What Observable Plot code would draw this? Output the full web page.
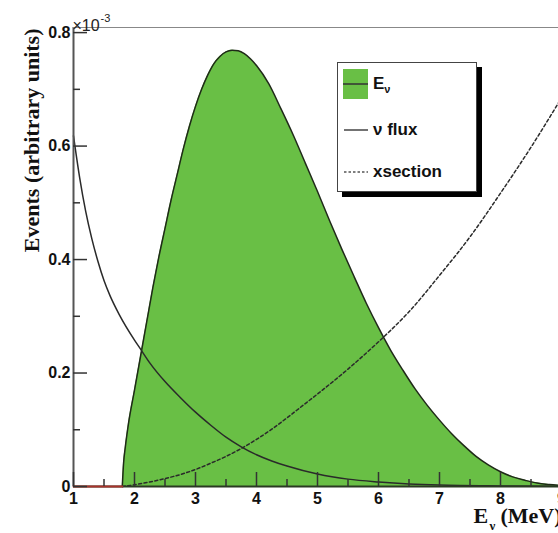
<!DOCTYPE html>
<html><head><meta charset="utf-8">
<script src="https://cdn.jsdelivr.net/npm/d3@7"></script>
<script src="https://cdn.jsdelivr.net/npm/@observablehq/plot@0.6"></script>
<style>
html,body{margin:0;padding:0;background:#fff;overflow:hidden;}
#wrap{position:relative;width:558px;height:533px;overflow:hidden;}
#legend{position:absolute;left:337px;top:62px;width:138px;height:128px;border:1.5px solid #444;background:#fff;box-shadow:5px 5px 0 #000;font-family:"Liberation Sans",Arial,sans-serif;font-weight:bold;font-size:17px;color:#111;}
.row{position:absolute;left:5px;height:30px;display:flex;align-items:center;}
.row svg{display:block;margin-right:5px;}
.row sub{font-size:11px;vertical-align:-4px;}
</style>
</head><body>
<div id="wrap"></div>
<script>
// Spectrum (green filled): energy (MeV) and events (x1e-3)
const specE = [1.80,1.82,1.85,1.90,2.00,2.10,2.20,2.30,2.40,2.50,2.60,2.70,2.80,2.90,3.00,3.10,3.20,3.30,3.40,3.50,3.60,3.70,3.80,3.90,4.00,4.20,4.40,4.60,4.80,5.00,5.20,5.40,5.60,5.80,6.00,6.20,6.40,6.60,6.80,7.00,7.20,7.40,7.60,7.80,8.00,8.20,8.40,8.60,8.80,9.00];
const specV = [0,0.040,0.070,0.110,0.170,0.230,0.290,0.350,0.405,0.455,0.505,0.550,0.595,0.635,0.670,0.700,0.725,0.745,0.758,0.766,0.769,0.768,0.763,0.754,0.742,0.710,0.666,0.620,0.570,0.520,0.468,0.418,0.370,0.323,0.280,0.240,0.205,0.172,0.143,0.117,0.093,0.072,0.053,0.038,0.026,0.017,0.011,0.006,0.0035,0.002];
// Zero segment below threshold
const zeroE = [1.0,1.8];
const zeroV = [0,0];
// Neutrino flux (solid)
const fluxE = [1.0,1.1,1.2,1.3,1.4,1.5,1.6,1.75,2.0,2.1,2.25,2.5,2.75,3.0,3.25,3.5,3.75,4.0,4.25,4.5,5.0,5.5,6.0,6.5,7.0,8.0,9.0];
const fluxV = [0.618,0.545,0.485,0.437,0.397,0.363,0.336,0.303,0.258,0.242,0.218,0.185,0.157,0.131,0.108,0.087,0.070,0.056,0.045,0.036,0.022,0.013,0.008,0.0045,0.0025,0.001,0.0003];
// Cross-section (dotted)
const xsecE = [1.8,2.0,2.25,2.5,2.75,3.0,3.25,3.5,3.75,4.0,4.25,4.5,4.75,5.0,5.5,6.0,6.5,7.0,7.5,8.0,8.5,9.0];
const xsecV = [0,0.003,0.008,0.014,0.021,0.030,0.041,0.053,0.067,0.083,0.101,0.121,0.142,0.163,0.207,0.255,0.308,0.372,0.440,0.517,0.598,0.685];
// Axes
const xDomain = [1,9];
const yDomain = [0,0.809];
const xMajor = [1,2,3,4,5,6,7,8,9];
const xMinor = [1.5,2.5,3.5,4.5,5.5,6.5,7.5,8.5];
const yMajor = [0,0.2,0.4,0.6,0.8];
const yMinor = [0.1,0.3,0.5,0.7];

const toRows = (E,V) => E.map((e,i)=>({e, v:V[i]}));
const spec = toRows(specE,specV), flux = toRows(fluxE,fluxV), xsec = toRows(xsecE,xsecV), zero = toRows(zeroE,zeroV);

const serif = '"Liberation Serif","Times New Roman",serif';
const sans = '"Liberation Sans",Arial,sans-serif';
const tickStyle = {stroke:"#333", strokeWidth:1.5};

const chart = Plot.plot({
  width:558, height:533,
  marginLeft:73, marginRight:0, marginTop:27, marginBottom:47,
  x:{domain:xDomain, range:[73,561]},
  y:{domain:yDomain, range:[486,27]},
  style:{fontFamily:sans, fontSize:"16px", fontWeight:"bold", color:"#111", background:"#fff"},
  marks:[
    Plot.areaY(spec,{x:"e", y:"v", fill:"#69bf45", curve:"monotone-x"}),
    Plot.line(spec,{x:"e", y:"v", stroke:"#1f2a18", strokeWidth:1.5, curve:"monotone-x"}),
    Plot.line(flux,{x:"e", y:"v", stroke:"#2a2a2a", strokeWidth:1.5, curve:"monotone-x"}),
    Plot.line(xsec,{x:"e", y:"v", stroke:"#2a2a2a", strokeWidth:1.5, strokeDasharray:"3,2.5", curve:"monotone-x"}),
    Plot.ruleX([xDomain[0]],{stroke:"#555", strokeWidth:2}),
    Plot.ruleY([yDomain[1]],{stroke:"#888", strokeWidth:1}),
    Plot.ruleY([0],{stroke:"#2a3a22", strokeWidth:2}),
    Plot.line(zero,{x:"e", y:"v", stroke:"#a8322c", strokeWidth:2}),
    Plot.tickY(yMajor,{...tickStyle, insetRight:471}),
    Plot.tickY(yMinor,{...tickStyle, insetRight:478}),
    Plot.tickX(xMajor,{...tickStyle, insetTop:445}),
    Plot.tickX(xMinor,{...tickStyle, insetTop:452}),
    Plot.axisY({ticks:yMajor, tickSize:0, tickPadding:3, label:null, fontSize:16, fontWeight:"bold",
                tickFormat:d => d === 0 ? "0" : d.toFixed(1)}),
    Plot.axisX({ticks:xMajor, tickSize:0, tickPadding:6, label:null, fontSize:16, fontWeight:"bold",
                tickFormat:d => String(d)}),
    Plot.text(["Events (arbitrary units)"],{frameAnchor:"top-left", rotate:-90, textAnchor:"end", dx:-50, dy:1,
                fontFamily:serif, fontSize:22, fontWeight:"bold", fill:"#111"}),
    Plot.text(["E"],{frameAnchor:"bottom-left", textAnchor:"start", dx:400, dy:36, fontFamily:serif, fontSize:22, fontWeight:"bold", fill:"#111"}),
    Plot.text(["ν"],{frameAnchor:"bottom-left", textAnchor:"start", dx:416, dy:43, fontFamily:serif, fontSize:13, fontWeight:"bold", fill:"#111"}),
    Plot.text(["(MeV)"],{frameAnchor:"bottom-left", textAnchor:"start", dx:427, dy:36, fontFamily:serif, fontSize:22, fontWeight:"bold", fill:"#111"}),
    Plot.text(["×10"],{frameAnchor:"top-left", textAnchor:"start", dx:-1, dy:-8, fontSize:16, fontWeight:"normal", fill:"#222"}),
    Plot.text(["-3"],{frameAnchor:"top-left", textAnchor:"start", dx:27, dy:-13, fontSize:11, fontWeight:"normal", fill:"#222"})
  ]
});
const wrap = document.getElementById("wrap");
wrap.appendChild(chart);

const legend = document.createElement("div");
legend.id = "legend";
legend.innerHTML = `
  <div class="row" style="top:6px"><svg width="25" height="30"><rect x="0" y="0" width="25" height="30" fill="#69bf45"/><line x1="0" x2="25" y1="15" y2="15" stroke="#333" stroke-width="1.5"/></svg><span>E<sub>ν</sub></span></div>
  <div class="row" style="top:52px"><svg width="25" height="30"><line x1="1" x2="25" y1="15" y2="15" stroke="#444" stroke-width="1.5"/></svg><span>ν flux</span></div>
  <div class="row" style="top:94px"><svg width="25" height="30"><line x1="1" x2="25" y1="15" y2="15" stroke="#555" stroke-width="1.5" stroke-dasharray="2.5,2"/></svg><span>xsection</span></div>`;
wrap.appendChild(legend);
</script>
</body></html>
